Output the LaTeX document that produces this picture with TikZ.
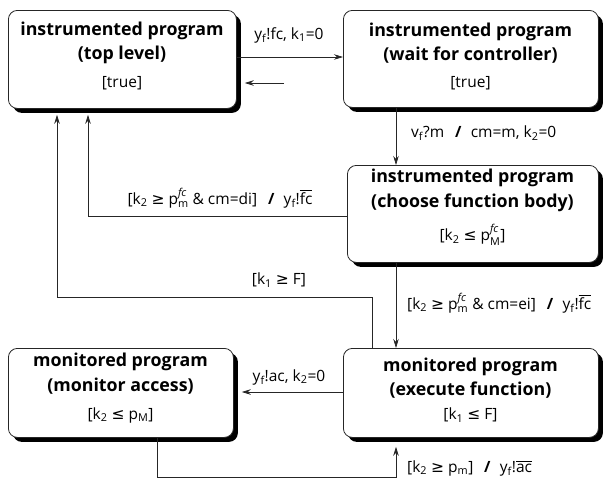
\documentclass[tikz,border=0pt]{standalone}
\usepackage{amsmath}
\usepackage{fontspec}
\setmainfont{Open Sans}
\newfontfamily\symf{DejaVu Sans}
\usetikzlibrary{arrows.meta,shadows}
\newcommand\sbs[1]{\textsubscript{#1}}
\newcommand\mygeq{{\symf ≥}}
\newcommand\myleq{{\symf ≤}}
\newcommand\psm[2]{p$^{\text{\itshape #1}}_{\text{#2}}$}
\newcommand\ovl[1]{$\overline{\text{#1}}$}
\newcommand\mysep{\hspace{0.7em}\textbf{/}\hspace{0.6em}}
\begin{document}
\begin{tikzpicture}[x=1pt,y=-1pt,
  state/.style={draw=black!85, line width=0.8pt, rounded corners=9pt, fill=white,
    inner sep=0pt, anchor=north west,
    drop shadow={shadow xshift=4.5pt, shadow yshift=-4.5pt, opacity=1, fill=black}},
  ttl/.style={align=center, inner sep=0pt, font=\fontsize{17.8}{24.5}\selectfont\bfseries},
  grd/.style={inner sep=0pt, font=\fontsize{15.5}{18}\selectfont},
  arr/.style={draw=black!85, line width=0.7pt, -{Stealth[length=9pt,width=5.5pt]}},
  lab/.style={font=\fontsize{15.5}{18}\selectfont, inner sep=1pt}]
\useasboundingbox (0,0) rectangle (603,480);

\node[state, minimum width=228pt, minimum height=98pt] (top) at (8,10) {};
\node[ttl] (top-t) at (122,43) {instrumented program\\(top level)};
\node[grd] (top-g) at (122,83) {[true]};

\node[state, minimum width=255pt, minimum height=97pt] (wait) at (343,10) {};
\node[ttl] (wait-t) at (470.5,43) {instrumented program\\(wait for controller)};
\node[grd] (wait-g) at (470.5,83) {[true]};

\node[state, minimum width=251pt, minimum height=97pt] (choose) at (347,165) {};
\node[ttl] (choose-t) at (472.5,190.5) {instrumented program\\(choose function body)};
\node[grd] (choose-g) at (472.5,235) {[k\sbs{2} \myleq\ \psm{fc}{M}]};

\node[state, minimum width=225pt, minimum height=89pt] (mon) at (8,348) {};
\node[ttl] (mon-t) at (120.5,373.5) {monitored program\\(monitor access)};
\node[grd] (mon-g) at (120.5,415) {[k\sbs{2} \myleq\ p\sbs{M}]};

\node[state, minimum width=255pt, minimum height=89pt] (exec) at (343,348) {};
\node[ttl] (exec-t) at (470.5,378) {monitored program\\(execute function)};
\node[grd] (exec-g) at (470.5,415) {[k\sbs{1} \myleq\ F]};

\coordinate (xa) at (396,0);
\coordinate (xb) at (88,0);
\coordinate (kx) at (372,297);
\coordinate (kl) at (57,297);
\coordinate (bk) at (284,83);
\coordinate (xm) at (157,0);
\coordinate (bl) at (157,477);
\coordinate (br) at (396,477);

% top -> wait
\draw[arr] (top.east |- 0,57) -- (wait.west |- 0,57);
\node[lab] (l1) at (289,35) {y\sbs{f}!fc, k\sbs{1}=0};
% short back arrow
\draw[arr, shorten >=8pt] (bk) -- (bk -| top.east);
% wait -> choose
\draw[arr] (wait.south -| xa) -- (choose.north -| xa);
\node[lab, anchor=west] (l2) at (410,133) {v\sbs{f}?m\mysep cm=m, k\sbs{2}=0};
% choose -> top
\draw[arr, shorten >=6pt] (choose.west |- 0,216) -| (top.south -| xb);
\node[lab] (l3) at (220,198) {[k\sbs{2} \mygeq\ \psm{fc}{m} \& cm=di]\mysep y\sbs{f}!\ovl{fc}};
% exec -> top
\draw[arr, shorten >=6pt] (exec.north -| kx) -- (kx) -- (kl) -- (top.south -| kl);
\node[lab] (l4) at (279,280) {[k\sbs{1} \mygeq\ F]};
% choose -> exec
\draw[arr] (choose.south -| xa) -- (exec.north -| xa);
\node[lab, anchor=west] (l5) at (406,303) {[k\sbs{2} \mygeq\ \psm{fc}{m} \& cm=ei]\mysep y\sbs{f}!\ovl{fc}};
% exec -> mon
\draw[arr, shorten >=8pt] (exec.west |- 0,392) -- (mon.east |- 0,392);
\node[lab] (l6) at (289,377) {y\sbs{f}!ac, k\sbs{2}=0};
% mon -> exec
\draw[arr, shorten >=9pt] (mon.south -| xm) -- (bl) -- (br) -- (exec.south -| xa);
\node[lab, anchor=west] (l7) at (406,468) {[k\sbs{2} \mygeq\ p\sbs{m}]\mysep y\sbs{f}!\ovl{ac}};
\end{tikzpicture}
\end{document}
